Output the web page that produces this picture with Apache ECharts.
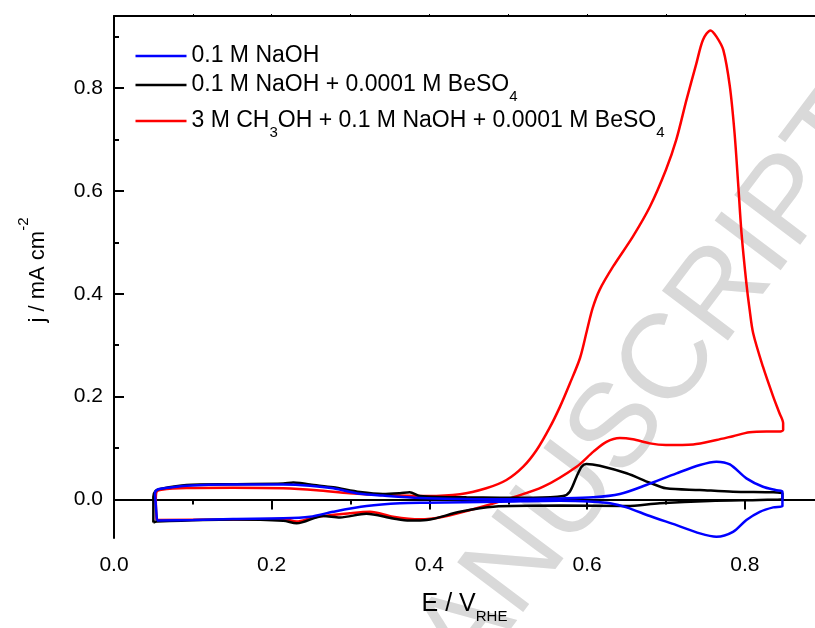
<!DOCTYPE html>
<html>
<head>
<meta charset="utf-8">
<script src="https://cdn.jsdelivr.net/npm/echarts@6/dist/echarts.min.js"></script>
<style>
html,body{margin:0;padding:0;background:#fff;}
#chart{width:815px;height:628px;}
</style>
</head>
<body>
<div id="chart"></div>
<script>
// ---------- data (E in V vs RHE, j in mA cm^-2) ----------
const seriesNames = [
  '0.1 M NaOH',
  '0.1 M NaOH + 0.0001 M BeSO4',
  '3 M CH3OH + 0.1 M NaOH + 0.0001 M BeSO4'
];
const legendLabels = [
  '{t|0.1 M NaOH}',
  '{t|0.1 M NaOH + 0.0001 M BeSO}{s|4}',
  '{t|3 M CH}{s|3}{t|OH + 0.1 M NaOH + 0.0001 M BeSO}{s|4}'
];
const seriesColors = ['#0000ff', '#000000', '#ff0000'];

// 0.1 M NaOH (blue)
const E_blue = [0.0545,0.053,0.052,0.055,0.0625,0.092,0.151,0.2147,0.2485,0.278,0.312,0.341,0.388,0.44,0.489,0.5655,0.6077,0.6415,0.675,0.7134,0.743,0.764,0.781,0.802,0.823,0.840,0.8477,0.8477,0.836,0.819,0.802,0.785,0.764,0.743,0.7134,0.6796,0.65,0.629,0.6077,0.5655,0.489,0.3965,0.3626,0.3204,0.278,0.2485,0.2147,0.151,0.1005,0.0545];
const J_blue = [-0.041,-0.01,0.012,0.019,0.0215,0.0267,0.029,0.029,0.0267,0.0216,0.011,0.0075,0.003,0.001,0.0002,0.002,0.004,0.0105,0.028,0.0508,0.067,0.0734,0.068,0.041,0.0247,0.018,0.015,-0.0128,-0.0154,-0.024,-0.040,-0.063,-0.0725,-0.066,-0.050,-0.0323,-0.0154,-0.0076,-0.0045,-0.0025,-0.0045,-0.0064,-0.0075,-0.013,-0.024,-0.0336,-0.0368,-0.038,-0.040,-0.041];

// 0.1 M NaOH + 0.0001 M BeSO4 (black)
const E_black = [0.0499,0.0499,0.053,0.06,0.092,0.151,0.2147,0.2274,0.2358,0.2485,0.278,0.312,0.341,0.3626,0.375,0.388,0.447,0.5316,0.5696,0.578,0.5866,0.593,0.599,0.616,0.65,0.6796,0.70,0.743,0.785,0.8477,0.8477,0.819,0.7556,0.692,0.65,0.5655,0.481,0.4387,0.3965,0.375,0.354,0.32,0.2865,0.2654,0.2316,0.2147,0.151,0.054,0.0499];
const J_black = [-0.045,0.005,0.017,0.021,0.028,0.0297,0.031,0.033,0.032,0.029,0.0235,0.0144,0.0105,0.012,0.0138,0.0066,0.004,0.0033,0.0066,0.015,0.044,0.0636,0.069,0.0656,0.0508,0.0325,0.0216,0.0183,0.015,0.0119,0.0002,-0.001,-0.003,-0.0076,-0.013,-0.012,-0.014,-0.024,-0.040,-0.041,-0.037,-0.028,-0.035,-0.032,-0.0465,-0.0414,-0.039,-0.043,-0.045];

// 3 M CH3OH + 0.1 M NaOH + 0.0001 M BeSO4 (red)
const E_red = [0.054,0.053,0.054,0.06,0.092,0.151,0.2147,0.257,0.299,0.341,0.3965,0.4387,0.472,0.4977,0.519,0.536,0.5527,0.5655,0.578,0.591,0.600,0.607,0.616,0.633,0.658,0.6796,0.70,0.713,0.726,0.7386,0.747,0.7565,0.764,0.7727,0.781,0.787,0.7915,0.7958,0.802,0.806,0.8106,0.823,0.836,0.844,0.8486,0.8486,0.844,0.8275,0.806,0.785,0.764,0.7345,0.70,0.6796,0.658,0.6415,0.6245,0.608,0.5866,0.5444,0.502,0.46,0.4175,0.388,0.354,0.3245,0.299,0.2527,0.2316,0.2147,0.151,0.054];
const J_red = [-0.040,0.0,0.015,0.019,0.022,0.0226,0.0216,0.018,0.012,0.0086,0.0066,0.01,0.0216,0.0377,0.0636,0.096,0.14,0.18,0.225,0.275,0.33,0.372,0.408,0.453,0.511,0.569,0.641,0.699,0.777,0.848,0.894,0.912,0.900,0.874,0.803,0.712,0.615,0.518,0.420,0.370,0.323,0.258,0.200,0.1675,0.148,0.135,0.132,0.132,0.1305,0.123,0.1155,0.107,0.106,0.109,0.117,0.1195,0.112,0.093,0.0636,0.0247,0.002,-0.0173,-0.0336,-0.0387,-0.0336,-0.024,-0.027,-0.035,-0.043,-0.038,-0.039,-0.040];

// axis ticks
const xMajorTicks = [0.0, 0.2, 0.4, 0.6, 0.8];
const xMinorTicks = [0.1, 0.3, 0.5, 0.7];
const xTopTicks = [0.1, 0.2, 0.3, 0.4, 0.5, 0.6, 0.7, 0.8];
const yMajorTicks = [0.0, 0.2, 0.4, 0.6, 0.8];
const yMinorTicks = [0.1, 0.3, 0.5, 0.7, 0.9];

const xRange = [0, 0.889];
const yRange = [-0.075, 0.94];

// ---------- chart ----------
const FONT = "'Liberation Sans', Arial, sans-serif";
const pairs = (xs, ys) => xs.map((x, i) => [x, ys[i]]);
const seriesData = [pairs(E_blue, J_blue), pairs(E_black, J_black), pairs(E_red, J_red)];

const chart = echarts.init(document.getElementById('chart'), null, {renderer: 'canvas'});

const axisLine = {show: true, lineStyle: {color: '#000', width: 2}};
const legendRich = {
  t: {fontSize: 23, fontFamily: FONT, color: '#000'},
  s: {fontSize: 15, fontFamily: FONT, color: '#000', padding: [24, 0, 0, 0]}
};
const legendTops = [44.5, 73.5, 109.5];

const series = [2, 1, 0].map(i => ({
  name: seriesNames[i],
  type: 'line',
  data: seriesData[i],
  showSymbol: false,
  symbol: 'none',
  smooth: 0.3,
  lineStyle: {color: seriesColors[i], width: 2.5},
  itemStyle: {color: seriesColors[i]},
  z: 3 + (2 - i),
  animation: false
}));

const option = {
  animation: false,
  backgroundColor: '#fff',
  grid: {left: 114, right: 0, top: 16, bottom: 90, containLabel: false, outerBoundsMode: 'none'},
  legend: seriesNames.map((n, i) => ({
    data: [n],
    left: 135.5,
    top: legendTops[i],
    padding: 0,
    icon: 'rect',
    itemWidth: 51,
    itemHeight: 2.5,
    formatter: name => legendLabels[seriesNames.indexOf(name)],
    textStyle: {fontSize: 23, fontFamily: FONT, color: '#000', rich: legendRich},
    selectedMode: false
  })),
  xAxis: [
    {
      type: 'value', position: 'bottom', min: xRange[0], max: xRange[1],
      axisLine: axisLine,
      axisTick: {show: true, inside: false, length: 10, customValues: xMajorTicks, lineStyle: {color: '#000', width: 2}},
      axisLabel: {show: true, customValues: xMajorTicks, margin: 17, fontSize: 21, fontFamily: FONT, color: '#000', formatter: v => v.toFixed(1)},
      splitLine: {show: false},
      name: '{t|E / V}{s|RHE}',
      nameLocation: 'middle',
      nameGap: 47,
      nameTextStyle: {fontSize: 25, fontFamily: FONT, color: '#000', rich: {
        t: {fontSize: 25, fontFamily: FONT, color: '#000'},
        s: {fontSize: 15, fontFamily: FONT, color: '#000', padding: [24, 0, 0, 0]}
      }}
    },
    {
      type: 'value', position: 'bottom', min: xRange[0], max: xRange[1],
      axisLine: {show: false},
      axisTick: {show: true, inside: false, length: 5, customValues: xMinorTicks, lineStyle: {color: '#000', width: 2}},
      axisLabel: {show: false},
      splitLine: {show: false}
    },
    {
      type: 'value', position: 'top', min: xRange[0], max: xRange[1],
      axisLine: axisLine,
      axisTick: {show: true, inside: false, length: 2, customValues: xTopTicks, lineStyle: {color: '#000', width: 1}},
      axisLabel: {show: false},
      splitLine: {show: false}
    }
  ],
  yAxis: [
    {
      type: 'value', position: 'left', min: yRange[0], max: yRange[1],
      axisLine: axisLine,
      axisTick: {show: true, inside: true, length: 10, customValues: yMajorTicks, lineStyle: {color: '#000', width: 2}},
      axisLabel: {show: true, customValues: yMajorTicks, margin: 11, fontSize: 21, fontFamily: FONT, color: '#000', formatter: v => v.toFixed(1)},
      splitLine: {show: false},
      name: '{t|j / mA cm}{s|-2}',
      nameLocation: 'middle',
      nameRotate: 90,
      nameGap: 55,
      nameTextStyle: {fontSize: 22, fontFamily: FONT, color: '#000', padding: [0, 0, 0, 14], rich: {
        t: {fontSize: 22, fontFamily: FONT, color: '#000'},
        s: {fontSize: 15, fontFamily: FONT, color: '#000', padding: [0, 0, 28, 0]}
      }}
    },
    {
      type: 'value', position: 'left', min: yRange[0], max: yRange[1],
      axisLine: {show: false},
      axisTick: {show: true, inside: true, length: 5, customValues: yMinorTicks, lineStyle: {color: '#000', width: 2}},
      axisLabel: {show: false},
      splitLine: {show: false}
    }
  ],
  graphic: [{
    type: 'text',
    x: 860,
    y: 110,
    rotation: 53 * Math.PI / 180,
    silent: true,
    z: -100,
    style: {
      text: 'ACCEPTED MANUSCRIPT',
      font: "120px 'Liberation Sans', Arial, sans-serif",
      fill: '#d9d9d9',
      align: 'right',
      verticalAlign: 'middle'
    }
  }],
  series: series
};
chart.setOption(option);
</script>
</body>
</html>
